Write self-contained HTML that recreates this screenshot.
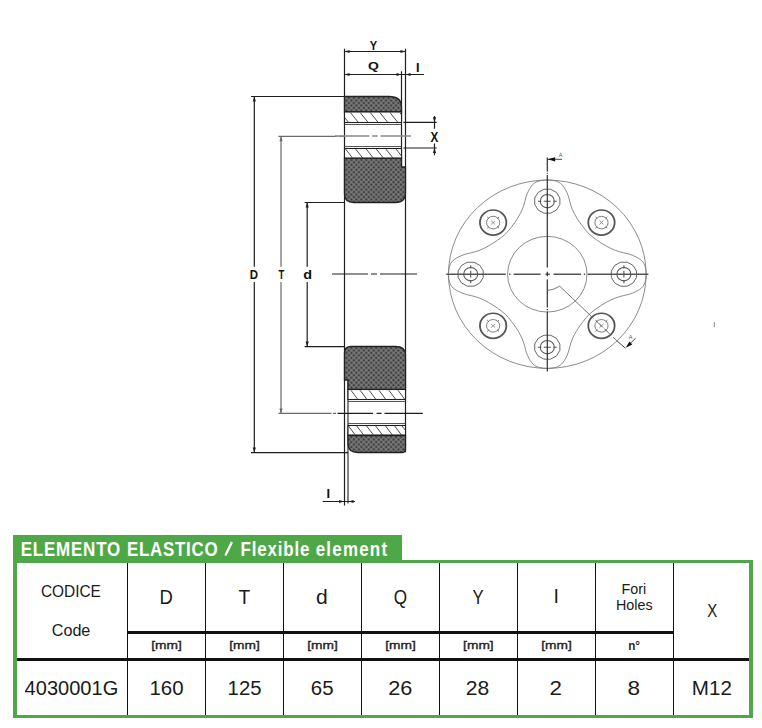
<!DOCTYPE html>
<html><head><meta charset="utf-8"><title>Elemento elastico / Flexible element</title>
<style>
html,body{margin:0;padding:0;background:#fff;}
body{width:762px;height:728px;position:relative;overflow:hidden;font-family:"Liberation Sans",sans-serif;}
</style></head><body>
<svg width="762" height="728" viewBox="0 0 762 728" style="position:absolute;left:0;top:0">
<defs>
 <pattern id="rub" width="3.5" height="3.5" patternUnits="userSpaceOnUse" patternTransform="rotate(45)">
  <rect width="3.5" height="3.5" fill="#6c6c6c"/>
  <rect x="0.3" y="0.3" width="1.6" height="1.6" fill="#303030"/>
  <rect x="2.3" y="2.3" width="0.9" height="0.9" fill="#9a9a9a"/>
 </pattern>
 <clipPath id="c1"><rect x="344.5" y="112" width="57" height="10.5"/></clipPath>
 <clipPath id="c2"><rect x="344.5" y="148.5" width="57" height="9.5"/></clipPath>
 <clipPath id="c3"><rect x="348" y="389.5" width="57.5" height="10"/></clipPath>
 <clipPath id="c4"><rect x="348" y="425.5" width="57.5" height="9.5"/></clipPath>
</defs>
<g fill="none" stroke="#1e1e1e" stroke-width="1.2">
 <path d="M344.5,48.8V505.5 M405.5,48.8V452.2 M401.5,71.2V167"/>
 <path stroke="#333" d="M348,380V503.6"/>
 <path d="M344.5,51.5H405.5 M344.5,74.5H424"/>
 <path d="M251,96.5H344.5 M254.3,96.5V266.7 M254.3,281.9V452.6 M251,452.6H348"/>
 <path d="M304.6,202.5H344.5 M307.2,202.5V266.7 M307.2,281.9V346.6 M304.6,346.6H344.5"/>
 <path stroke="#6a6a6a" d="M278.4,136.3H337.3 M339,136.3H344.5 M281,136.3V266.7 M281,281.9V413.4 M278.4,413.4H331.5 M333,413.4H336"/>
 <path d="M332,274H368 M371,274H377 M380,274H417"/>
 <path stroke="#8a8a8a" stroke-width="1.4" d="M335,136H369.4 M372,136H377.7 M380.5,136H411"/>
 <path d="M337.5,413.4H373 M376.6,413.4H381.5 M384.5,413.4H422.8"/>
 <path d="M403.4,122.3H436.7 M403.4,148H436.7 M434.5,116V128.7 M434.5,143.6V155.2"/>
 <path d="M322.6,501.5H355"/>
</g>
<g fill="url(#rub)" stroke="#222" stroke-width="1.3">
 <path d="M344.5,96.5H389Q401.5,96.5 401.5,107V112H344.5Z"/>
 <path d="M344.5,158H401.5V167H405.5V192.5Q405.5,202.5 395.5,202.5H354Q344.5,202.5 344.5,194Z"/>
 <path d="M351,346.5H395.5Q405.5,346.5 405.5,355V389.5H348V380H344.5V353Q344.5,346.5 351,346.5Z"/>
 <path d="M348,435.5H405.5V449Q405.5,452.5 402,452.5H358Q348,452.5 348,443.5Z"/>
</g>
<g stroke="#1e1e1e" stroke-width="1.1" fill="#fff">
 <rect x="344.5" y="112" width="57" height="10.5"/>
 <rect x="344.5" y="148.5" width="57" height="9.5"/>
 <rect x="348" y="389.5" width="57.5" height="10"/>
 <rect x="348" y="425.5" width="57.5" height="9.5"/>
</g>
<g stroke="#444" stroke-width="0.9" fill="none">
 <path d="M344.5,124.5H401.5 M344.5,146.5H401.5 M348,401.5H405.5 M348,423.5H405.5"/>
</g>
<g stroke="#3a3a3a" stroke-width="0.9">
 <g clip-path="url(#c1)"><path d="M340.7,112.6 l8,10"/><path d="M350.5,112.6 l8,10"/><path d="M360.2,112.6 l8,10"/><path d="M370.3,112.6 l8,10"/><path d="M379.9,112.6 l8,10"/><path d="M390.0,112.6 l8,10"/><path d="M399.8,112.6 l8,10"/></g>
 <g clip-path="url(#c2)"><path d="M345.0,148.4 l7.6,9.6"/><path d="M355.1,148.4 l7.6,9.6"/><path d="M365.7,148.4 l7.6,9.6"/><path d="M375.8,148.4 l7.6,9.6"/><path d="M385.4,148.4 l7.6,9.6"/><path d="M395.5,148.4 l7.6,9.6"/></g>
 <g clip-path="url(#c3)"><path d="M341.5,390.3 l7.4,9.9"/><path d="M351.0,390.3 l7.4,9.9"/><path d="M360.1,390.3 l7.4,9.9"/><path d="M369.1,390.3 l7.4,9.9"/><path d="M379.0,390.3 l7.4,9.9"/><path d="M388.9,390.3 l7.4,9.9"/><path d="M398.0,390.3 l7.4,9.9"/></g>
 <g clip-path="url(#c4)"><path d="M348.5,426 l7,9.3"/><path d="M356.8,426 l7,9.3"/><path d="M366.7,426 l7,9.3"/><path d="M375.7,426 l7,9.3"/><path d="M385.6,426 l7,9.3"/><path d="M394.7,426 l7,9.3"/><path d="M402.1,426 l7,9.3"/></g>
</g>
<path d="M344.50,51.50 L349.50,49.90 L349.50,53.10Z" fill="#1e1e1e"/><path d="M405.50,51.50 L400.50,53.10 L400.50,49.90Z" fill="#1e1e1e"/>
<path d="M344.50,74.50 L349.50,72.90 L349.50,76.10Z" fill="#1e1e1e"/><path d="M401.50,74.50 L396.50,76.10 L396.50,72.90Z" fill="#1e1e1e"/><path d="M405.50,74.50 L410.50,72.90 L410.50,76.10Z" fill="#1e1e1e"/>
<path d="M254.30,96.50 L255.90,101.50 L252.70,101.50Z" fill="#1e1e1e"/><path d="M254.30,452.60 L252.70,447.60 L255.90,447.60Z" fill="#1e1e1e"/>
<path d="M281.00,136.30 L282.60,141.30 L279.40,141.30Z" fill="#6a6a6a"/><path d="M281.00,413.40 L279.40,408.40 L282.60,408.40Z" fill="#6a6a6a"/>
<path d="M307.20,202.50 L308.80,207.50 L305.60,207.50Z" fill="#1e1e1e"/><path d="M307.20,346.60 L305.60,341.60 L308.80,341.60Z" fill="#1e1e1e"/>
<path d="M434.50,122.30 L432.90,117.30 L436.10,117.30Z" fill="#1e1e1e"/><path d="M434.50,148.00 L436.10,153.00 L432.90,153.00Z" fill="#1e1e1e"/>
<path d="M344.00,501.50 L339.00,503.10 L339.00,499.90Z" fill="#1e1e1e"/><path d="M348.50,501.50 L353.50,499.90 L353.50,503.10Z" fill="#1e1e1e"/>
<g transform="translate(547.3,274.2) scale(1,0.953)" fill="none" stroke="#7a7a7a" stroke-width="0.9">
 <circle r="98.8"/>
 <circle r="39.7"/>
 <path d="M5.00,-98.60 C8.00,-98.08 10.83,-97.10 13.00,-95.50 C15.17,-93.90 16.67,-91.25 18.00,-89.00 C19.33,-86.75 20.25,-84.17 21.00,-82.00 C21.75,-79.83 21.83,-78.33 22.50,-76.00 C23.17,-73.67 23.83,-70.83 25.00,-68.00 C26.17,-65.17 27.75,-62.00 29.50,-59.00 C31.25,-56.00 33.42,-52.83 35.50,-50.00 C37.58,-47.17 39.58,-44.42 42.00,-42.00 C44.42,-39.58 47.17,-37.58 50.00,-35.50 C52.83,-33.42 56.00,-31.25 59.00,-29.50 C62.00,-27.75 65.17,-26.17 68.00,-25.00 C70.83,-23.83 73.67,-23.17 76.00,-22.50 C78.33,-21.83 79.83,-21.75 82.00,-21.00 C84.17,-20.25 86.75,-19.33 89.00,-18.00 C91.25,-16.67 93.90,-15.17 95.50,-13.00 C97.10,-10.83 98.08,-8.00 98.60,-5.00 C99.12,-2.00 99.12,2.00 98.60,5.00 C98.08,8.00 97.10,10.83 95.50,13.00 C93.90,15.17 91.25,16.67 89.00,18.00 C86.75,19.33 84.17,20.25 82.00,21.00 C79.83,21.75 78.33,21.83 76.00,22.50 C73.67,23.17 70.83,23.83 68.00,25.00 C65.17,26.17 62.00,27.75 59.00,29.50 C56.00,31.25 52.83,33.42 50.00,35.50 C47.17,37.58 44.42,39.58 42.00,42.00 C39.58,44.42 37.58,47.17 35.50,50.00 C33.42,52.83 31.25,56.00 29.50,59.00 C27.75,62.00 26.17,65.17 25.00,68.00 C23.83,70.83 23.17,73.67 22.50,76.00 C21.83,78.33 21.75,79.83 21.00,82.00 C20.25,84.17 19.33,86.75 18.00,89.00 C16.67,91.25 15.17,93.90 13.00,95.50 C10.83,97.10 8.00,98.08 5.00,98.60 C2.00,99.12 -2.00,99.12 -5.00,98.60 C-8.00,98.08 -10.83,97.10 -13.00,95.50 C-15.17,93.90 -16.67,91.25 -18.00,89.00 C-19.33,86.75 -20.25,84.17 -21.00,82.00 C-21.75,79.83 -21.83,78.33 -22.50,76.00 C-23.17,73.67 -23.83,70.83 -25.00,68.00 C-26.17,65.17 -27.75,62.00 -29.50,59.00 C-31.25,56.00 -33.42,52.83 -35.50,50.00 C-37.58,47.17 -39.58,44.42 -42.00,42.00 C-44.42,39.58 -47.17,37.58 -50.00,35.50 C-52.83,33.42 -56.00,31.25 -59.00,29.50 C-62.00,27.75 -65.17,26.17 -68.00,25.00 C-70.83,23.83 -73.67,23.17 -76.00,22.50 C-78.33,21.83 -79.83,21.75 -82.00,21.00 C-84.17,20.25 -86.75,19.33 -89.00,18.00 C-91.25,16.67 -93.90,15.17 -95.50,13.00 C-97.10,10.83 -98.08,8.00 -98.60,5.00 C-99.12,2.00 -99.12,-2.00 -98.60,-5.00 C-98.08,-8.00 -97.10,-10.83 -95.50,-13.00 C-93.90,-15.17 -91.25,-16.67 -89.00,-18.00 C-86.75,-19.33 -84.17,-20.25 -82.00,-21.00 C-79.83,-21.75 -78.33,-21.83 -76.00,-22.50 C-73.67,-23.17 -70.83,-23.83 -68.00,-25.00 C-65.17,-26.17 -62.00,-27.75 -59.00,-29.50 C-56.00,-31.25 -52.83,-33.42 -50.00,-35.50 C-47.17,-37.58 -44.42,-39.58 -42.00,-42.00 C-39.58,-44.42 -37.58,-47.17 -35.50,-50.00 C-33.42,-52.83 -31.25,-56.00 -29.50,-59.00 C-27.75,-62.00 -26.17,-65.17 -25.00,-68.00 C-23.83,-70.83 -23.17,-73.67 -22.50,-76.00 C-21.83,-78.33 -21.75,-79.83 -21.00,-82.00 C-20.25,-84.17 -19.33,-86.75 -18.00,-89.00 C-16.67,-91.25 -15.17,-93.90 -13.00,-95.50 C-10.83,-97.10 -8.00,-98.08 -5.00,-98.60 C-2.00,-99.12 2.00,-99.12 5.00,-98.60Z"/>
 <polygon points="12.56,-73.24 9.19,-67.41 3.36,-64.04 -3.36,-64.04 -9.19,-67.41 -12.56,-73.24 -12.56,-79.96 -9.19,-85.79 -3.36,-89.16 3.36,-89.16 9.19,-85.79 12.56,-79.96" stroke="#505050" stroke-width="0.9"/>
 <circle cx="0.00" cy="-76.60" r="7" stroke="#5a5a5a" stroke-width="1.1"/>
 <path d="M-3.50,-76.60L3.50,-76.60M-6.00,-76.60L-9.50,-76.60M6.00,-76.60L9.50,-76.60" stroke="#555" stroke-width="1.1"/>
 <circle cx="54.16" cy="-54.16" r="13.2" stroke="#555" stroke-width="1.8"/>
 <circle cx="54.16" cy="-54.16" r="6.6" stroke="#7a7a7a" stroke-width="1"/>
 <path d="M58.27,-50.06L60.03,-48.30M50.06,-50.06L48.30,-48.30M50.06,-58.27L48.30,-60.03M58.27,-58.27L60.03,-60.03" stroke="#666" stroke-width="1"/>
 <path d="M52.16,-56.16L56.16,-52.16M56.16,-56.16L52.16,-52.16" stroke="#777" stroke-width="0.8"/>
 <polygon points="89.16,3.36 85.79,9.19 79.96,12.56 73.24,12.56 67.41,9.19 64.04,3.36 64.04,-3.36 67.41,-9.19 73.24,-12.56 79.96,-12.56 85.79,-9.19 89.16,-3.36" stroke="#505050" stroke-width="0.9"/>
 <circle cx="76.60" cy="-0.00" r="7" stroke="#5a5a5a" stroke-width="1.1"/>
 <path d="M76.60,-3.50L76.60,3.50M76.60,-6.00L76.60,-9.50M76.60,6.00L76.60,9.50" stroke="#555" stroke-width="1.1"/>
 <circle cx="54.16" cy="54.16" r="13.2" stroke="#555" stroke-width="1.8"/>
 <circle cx="54.16" cy="54.16" r="6.6" stroke="#7a7a7a" stroke-width="1"/>
 <path d="M58.27,58.27L60.03,60.03M50.06,58.27L48.30,60.03M50.06,50.06L48.30,48.30M58.27,50.06L60.03,48.30" stroke="#666" stroke-width="1"/>
 <path d="M52.16,52.16L56.16,56.16M56.16,52.16L52.16,56.16" stroke="#777" stroke-width="0.8"/>
 <polygon points="12.56,79.96 9.19,85.79 3.36,89.16 -3.36,89.16 -9.19,85.79 -12.56,79.96 -12.56,73.24 -9.19,67.41 -3.36,64.04 3.36,64.04 9.19,67.41 12.56,73.24" stroke="#505050" stroke-width="0.9"/>
 <circle cx="0.00" cy="76.60" r="7" stroke="#5a5a5a" stroke-width="1.1"/>
 <path d="M3.50,76.60L-3.50,76.60M6.00,76.60L9.50,76.60M-6.00,76.60L-9.50,76.60" stroke="#555" stroke-width="1.1"/>
 <circle cx="-54.16" cy="54.16" r="13.2" stroke="#555" stroke-width="1.8"/>
 <circle cx="-54.16" cy="54.16" r="6.6" stroke="#7a7a7a" stroke-width="1"/>
 <path d="M-50.06,58.27L-48.30,60.03M-58.27,58.27L-60.03,60.03M-58.27,50.06L-60.03,48.30M-50.06,50.06L-48.30,48.30" stroke="#666" stroke-width="1"/>
 <path d="M-56.16,52.16L-52.16,56.16M-52.16,52.16L-56.16,56.16" stroke="#777" stroke-width="0.8"/>
 <polygon points="-64.04,3.36 -67.41,9.19 -73.24,12.56 -79.96,12.56 -85.79,9.19 -89.16,3.36 -89.16,-3.36 -85.79,-9.19 -79.96,-12.56 -73.24,-12.56 -67.41,-9.19 -64.04,-3.36" stroke="#505050" stroke-width="0.9"/>
 <circle cx="-76.60" cy="0.00" r="7" stroke="#5a5a5a" stroke-width="1.1"/>
 <path d="M-76.60,3.50L-76.60,-3.50M-76.60,6.00L-76.60,9.50M-76.60,-6.00L-76.60,-9.50" stroke="#555" stroke-width="1.1"/>
 <circle cx="-54.16" cy="-54.16" r="13.2" stroke="#555" stroke-width="1.8"/>
 <circle cx="-54.16" cy="-54.16" r="6.6" stroke="#7a7a7a" stroke-width="1"/>
 <path d="M-50.06,-50.06L-48.30,-48.30M-58.27,-50.06L-60.03,-48.30M-58.27,-58.27L-60.03,-60.03M-50.06,-58.27L-48.30,-60.03" stroke="#666" stroke-width="1"/>
 <path d="M-56.16,-56.16L-52.16,-52.16M-52.16,-56.16L-56.16,-52.16" stroke="#777" stroke-width="0.8"/>
</g>
<g fill="none" stroke="#2e2e2e" stroke-width="1.2">
 <path d="M446.30,274.20H505.70M509.00,274.20H510.40M513.60,274.20H540.60M545.50,274.20H549.80M553.50,274.20H581.00M583.80,274.20H585.20M587.60,274.20H648.40" stroke="#555" stroke-width="1.4"/>
 <path d="M547.30,157.40V171.60M547.30,172.80V173.80M547.30,175.00V267.50M547.30,271.80V276.20M547.30,279.60V307.50M547.30,309.00V310.20M547.30,311.50V371.40"/>
</g>
<g fill="none" stroke="#666" stroke-width="0.9">
 <path d="M547.4,290.5 Q553.5,290 559.7,286.2 L587,312.2"/>
 <path stroke-dasharray="9,3" d="M587,312.2 L616.5,340.4"/>
 <path stroke="#333" d="M616.5,340.4 L625.5,348.3 M627,346.5 L635.5,338.4"/>
 <path stroke="#333" d="M547.3,159.3H562"/>
</g>
<path d="M547.60,159.30 L555.10,157.20 L555.10,161.40Z" fill="#111"/>
<path d="M625.80,347.80 L629.40,341.44 L632.31,344.47Z" fill="#111"/>
<text x="558.8" y="157.2" font-family="Liberation Sans" font-size="5.5" fill="#555">A</text>
<text x="628.8" y="338.6" font-family="Liberation Sans" font-size="5.5" fill="#555">A</text>
<path d="M714.4,322V327" stroke="#999" stroke-width="1.2"/>
</svg>
<div style="position:absolute;left:13px;top:535px;width:389px;height:28px;background:#4fa847"></div><div style="position:absolute;left:13px;top:560px;width:740px;height:158px;box-sizing:border-box;border:solid #4fa847;border-width:3px 4px 3px 4px"></div><div style="position:absolute;left:126.75px;top:563px;width:1.5px;height:152px;background:#111"></div><div style="position:absolute;left:204.75px;top:563px;width:1.5px;height:152px;background:#111"></div><div style="position:absolute;left:282.75px;top:563px;width:1.5px;height:152px;background:#111"></div><div style="position:absolute;left:360.95px;top:563px;width:1.5px;height:152px;background:#111"></div><div style="position:absolute;left:438.55px;top:563px;width:1.5px;height:152px;background:#111"></div><div style="position:absolute;left:516.85px;top:563px;width:1.5px;height:152px;background:#111"></div><div style="position:absolute;left:594.75px;top:563px;width:1.5px;height:152px;background:#111"></div><div style="position:absolute;left:672.75px;top:563px;width:1.5px;height:152px;background:#111"></div><div style="position:absolute;left:127.5px;top:631.2px;width:546px;height:2.6px;background:#111"></div><div style="position:absolute;left:17px;top:658px;width:732px;height:2.8px;background:#111"></div>
<svg width="762" height="728" style="position:absolute;left:0;top:0">
<text transform="translate(20.72,556.0) scale(0.86,1)" font-family="Liberation Sans" font-weight="bold" font-size="19.7" fill="#fff" letter-spacing="0.945">ELEMENTO</text>
<text transform="translate(127.02,556.0) scale(0.86,1)" font-family="Liberation Sans" font-weight="bold" font-size="19.7" fill="#fff" letter-spacing="0.824">ELASTICO</text>
<path d="M225.4,555.6 L231.9,542.1" stroke="#fff" stroke-width="2.3"/>
<text transform="translate(240.52,556.0) scale(0.86,1)" font-family="Liberation Sans" font-weight="bold" font-size="19.7" fill="#fff" letter-spacing="0.984">Flexible</text>
<text transform="translate(315.66,556.0) scale(0.86,1)" font-family="Liberation Sans" font-weight="bold" font-size="19.7" fill="#fff" letter-spacing="1.432">element</text>
<text transform="translate(40.91,596.67) scale(0.9085,1)" font-family="Liberation Sans" font-weight="normal" font-size="16.99" fill="#1a1a1a">CODICE</text>
<text transform="translate(51.72,635.62) scale(1.0102,1)" font-family="Liberation Sans" font-weight="normal" font-size="16.0" fill="#1a1a1a">Code</text>
<text transform="translate(159.53,603.8) scale(0.9072,1)" font-family="Liberation Sans" font-weight="normal" font-size="20.36" fill="#1a1a1a">D</text>
<text transform="translate(238.43,603.77) scale(0.9495,1)" font-family="Liberation Sans" font-weight="normal" font-size="20.22" fill="#1a1a1a">T</text>
<text transform="translate(316.06,603.55) scale(1.0743,1)" font-family="Liberation Sans" font-weight="normal" font-size="19.6" fill="#1a1a1a">d</text>
<text transform="translate(393.63,603.65) scale(0.8748,1)" font-family="Liberation Sans" font-weight="normal" font-size="19.6" fill="#1a1a1a">Q</text>
<text transform="translate(472.49,603.77) scale(0.824,1)" font-family="Liberation Sans" font-weight="normal" font-size="20.22" fill="#1a1a1a">Y</text>
<text transform="translate(553.51,603.4) scale(1.0,1)" font-family="Liberation Sans" font-weight="normal" font-size="19.6" fill="#1a1a1a">I</text>
<text transform="translate(621.58,593.85) scale(0.972,1)" font-family="Liberation Sans" font-weight="normal" font-size="14.78" fill="#1a1a1a">Fori</text>
<text transform="translate(616.01,609.98) scale(0.9502,1)" font-family="Liberation Sans" font-weight="normal" font-size="15.05" fill="#1a1a1a">Holes</text>
<text transform="translate(707.27,616.9) scale(0.8558,1)" font-family="Liberation Sans" font-weight="normal" font-size="17.45" fill="#1a1a1a">X</text>
<text transform="translate(628.18,650.0) scale(0.9636,1)" font-family="Liberation Sans" font-weight="bold" font-size="12.2" fill="#2a2a2a">n°</text>
<text transform="translate(151.16,649.23) scale(1.1855,1)" font-family="Liberation Sans" font-weight="normal" font-size="11.6" fill="#1e1e1e" stroke="#1e1e1e" stroke-width="0.35">[mm]</text>
<text transform="translate(229.16,649.23) scale(1.1855,1)" font-family="Liberation Sans" font-weight="normal" font-size="11.6" fill="#1e1e1e" stroke="#1e1e1e" stroke-width="0.35">[mm]</text>
<text transform="translate(307.26,649.23) scale(1.1855,1)" font-family="Liberation Sans" font-weight="normal" font-size="11.6" fill="#1e1e1e" stroke="#1e1e1e" stroke-width="0.35">[mm]</text>
<text transform="translate(385.16,649.23) scale(1.1855,1)" font-family="Liberation Sans" font-weight="normal" font-size="11.6" fill="#1e1e1e" stroke="#1e1e1e" stroke-width="0.35">[mm]</text>
<text transform="translate(463.11,649.23) scale(1.1855,1)" font-family="Liberation Sans" font-weight="normal" font-size="11.6" fill="#1e1e1e" stroke="#1e1e1e" stroke-width="0.35">[mm]</text>
<text transform="translate(541.21,649.23) scale(1.1855,1)" font-family="Liberation Sans" font-weight="normal" font-size="11.6" fill="#1e1e1e" stroke="#1e1e1e" stroke-width="0.35">[mm]</text>
<text transform="translate(24.6,694.83) scale(0.9903,1)" font-family="Liberation Sans" font-weight="normal" font-size="20.25" fill="#1a1a1a">4030001G</text>
<text transform="translate(149.49,694.7) scale(1.0095,1)" font-family="Liberation Sans" font-weight="normal" font-size="20.25" fill="#1a1a1a">160</text>
<text transform="translate(227.59,694.83) scale(1.004,1)" font-family="Liberation Sans" font-weight="normal" font-size="20.25" fill="#1a1a1a">125</text>
<text transform="translate(310.79,694.7) scale(1.0085,1)" font-family="Liberation Sans" font-weight="normal" font-size="20.25" fill="#1a1a1a">65</text>
<text transform="translate(388.13,694.83) scale(1.0715,1)" font-family="Liberation Sans" font-weight="normal" font-size="20.25" fill="#1a1a1a">26</text>
<text transform="translate(465.86,694.83) scale(1.0424,1)" font-family="Liberation Sans" font-weight="normal" font-size="20.25" fill="#1a1a1a">28</text>
<text transform="translate(549.41,695.2) scale(1.088,1)" font-family="Liberation Sans" font-weight="normal" font-size="20.61" fill="#1a1a1a">2</text>
<text transform="translate(627.42,694.7) scale(1.1158,1)" font-family="Liberation Sans" font-weight="normal" font-size="20.25" fill="#1a1a1a">8</text>
<text transform="translate(691.85,695.2) scale(0.9987,1)" font-family="Liberation Sans" font-weight="normal" font-size="20.61" fill="#1a1a1a">M12</text>
<text transform="translate(369.67,49.7) scale(0.9049,1)" font-family="Liberation Sans" font-weight="bold" font-size="12.22" fill="#111">Y</text>
<text transform="translate(367.9,70.38) scale(1.3379,1)" font-family="Liberation Sans" font-weight="bold" font-size="10.41" fill="#111">Q</text>
<text transform="translate(416.1,71.75) scale(1.0,1)" font-family="Liberation Sans" font-weight="bold" font-size="12.65" fill="#111">I</text>
<text transform="translate(249.83,279.38) scale(0.875,1)" font-family="Liberation Sans" font-weight="bold" font-size="13.09" fill="#111">D</text>
<text transform="translate(278.43,279.38) scale(0.72,1)" font-family="Liberation Sans" font-weight="bold" font-size="13.09" fill="#111">T</text>
<text transform="translate(303.13,279.43) scale(1.1451,1)" font-family="Liberation Sans" font-weight="bold" font-size="12.58" fill="#111">d</text>
<text transform="translate(430.49,141.53) scale(0.8451,1)" font-family="Liberation Sans" font-weight="bold" font-size="13.82" fill="#111">X</text>
<text transform="translate(326.54,498.48) scale(1.0,1)" font-family="Liberation Sans" font-weight="bold" font-size="12.95" fill="#111">I</text>
</svg>
</body></html>
